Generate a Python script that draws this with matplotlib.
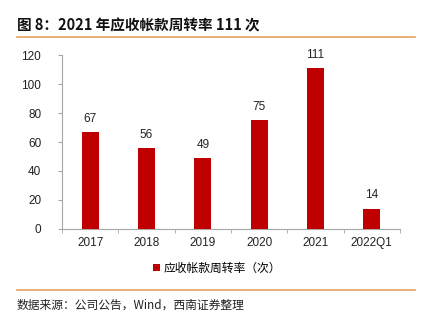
import matplotlib
matplotlib.use("Agg")
import matplotlib.pyplot as plt
import numpy as np

plt.rcParams["font.family"] = ["Liberation Sans", "Noto Sans CJK SC", "DejaVu Sans"]

# ── Data ────────────────────────────────────────────────────────────────────
years = ["2017", "2018", "2019", "2020", "2021", "2022Q1"]
turnover = [67, 56, 49, 75, 111, 14]
series_name = "应收帐款周转率（次）"

bar_color = "#C00000"
axis_color = "#A6A6A6"
rule_color = "#E3A35C"

fig = plt.figure(figsize=(4.25, 3.22), dpi=100)
fig.patch.set_facecolor("white")

ax = fig.add_axes([0.146, 0.289, 0.795, 0.540])
x = np.arange(len(years))
ax.bar(x, turnover, width=0.3, color=bar_color, label=series_name, zorder=3)

for xi, v in zip(x, turnover):
    ax.text(xi, v + 5, str(v), ha="center", va="bottom", fontsize=8.5, color="#222222")

ax.set_xlim(-0.5, len(years) - 0.5)
ax.set_ylim(0, 120)
ax.set_yticks(range(0, 121, 20))
ax.set_xticks(x)
ax.set_xticklabels(years)
ax.set_xticks(np.arange(-0.5, len(years)), minor=True)
ax.tick_params(axis="x", which="major", length=0, labelsize=8.5, pad=6, colors="#222222")
ax.tick_params(axis="x", which="minor", length=3, color=axis_color, direction="out")
ax.tick_params(axis="y", length=3, labelsize=8.5, color=axis_color, labelcolor="#222222", pad=12)

ax.spines["top"].set_visible(False)
ax.spines["right"].set_visible(False)
ax.spines["left"].set_color(axis_color)
ax.spines["bottom"].set_color(axis_color)
ax.spines["left"].set_linewidth(0.8)
ax.spines["bottom"].set_linewidth(0.8)

# ── Legend ──────────────────────────────────────────────────────────────────
leg = fig.legend(loc="center", bbox_to_anchor=(0.51, 1 - 268 / 322), frameon=False,
                 fontsize=8.5, handlelength=0.6, handleheight=0.6, handletextpad=0.3,
                 prop={"family": ["Noto Sans CJK SC"], "size": 8.5})

# ── Title, rules and source ─────────────────────────────────────────────────
fig.text(17 / 425, 1 - 25 / 322, "图 8：2021 年应收帐款周转率 111 次", fontsize=10.5,
         fontweight="bold", family=["Noto Sans CJK SC"], va="center", ha="left", color="#111111")
fig.add_artist(plt.Line2D([17 / 425, 415 / 425], [1 - 37 / 322] * 2, color=rule_color, lw=1.2))
fig.add_artist(plt.Line2D([17 / 425, 415 / 425], [1 - 290 / 322] * 2, color=rule_color, lw=1.2))
fig.text(17 / 425, 1 - 305 / 322, "数据来源：公司公告，Wind，西南证券整理", fontsize=8.5,
         style="italic", family=["Noto Sans CJK SC"], va="center", ha="left", color="#222222")

fig.savefig("out.png", dpi=100, facecolor="white")
